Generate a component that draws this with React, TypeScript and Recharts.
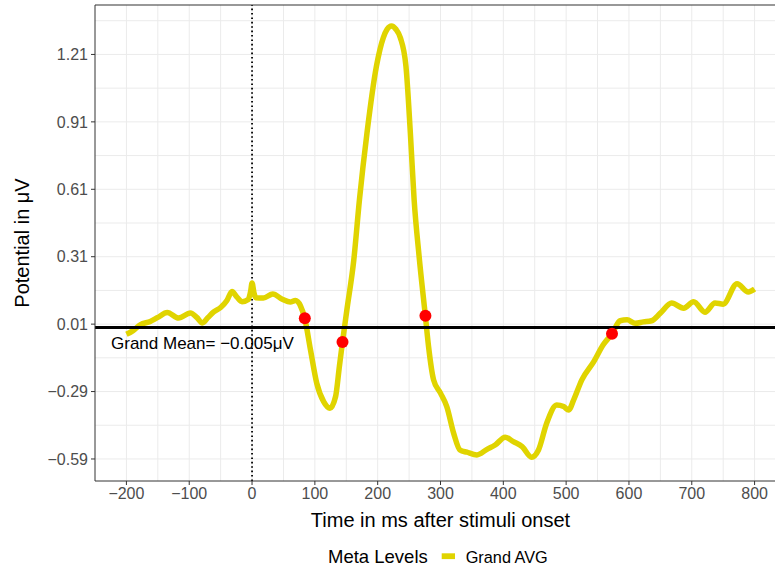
import {
  ComposedChart,
  Line,
  Scatter,
  XAxis,
  YAxis,
  ReferenceLine,
  Label,
} from 'recharts';

// grand average ERP (ms / µV)
const times = [
  -200, -190, -178, -162, -150, -135, -117, -98, -88, -79, -70, -61, -50, -40, -32, -24, -16, -6, -2, 0,
  3, 6, 18, 33, 48, 61, 69, 77, 84, 93, 103, 114, 124, 133, 139, 144, 151, 162, 171, 183,
  198, 209, 215, 222, 229, 236, 245, 252, 258, 266, 276, 281, 289, 300, 310, 321, 331, 342, 358, 374,
  387, 403, 416, 430, 445, 456, 469, 485, 496, 504, 512, 525, 544, 559, 573, 586, 597, 610, 623, 636,
  650, 668, 687, 703, 721, 737, 750, 772, 790, 800,
];
const potential = [
  -0.035, -0.02, 0.007, 0.022, 0.04, 0.062, 0.037, 0.06, 0.04, 0.015, 0.04, 0.064, 0.084, 0.115, 0.155, 0.13, 0.11, 0.12, 0.16, 0.193,
  0.15, 0.127, 0.126, 0.144, 0.121, 0.108, 0.115, 0.092, 0.034, -0.104, -0.253, -0.335, -0.364, -0.312, -0.179, -0.069, 0.074, 0.296, 0.564, 0.861,
  1.157, 1.285, 1.322, 1.337, 1.322, 1.285, 1.157, 0.861, 0.564, 0.31, 0.044, -0.09, -0.238, -0.297, -0.357, -0.476, -0.55, -0.56, -0.572, -0.547,
  -0.528, -0.493, -0.513, -0.535, -0.582, -0.55, -0.431, -0.35, -0.357, -0.372, -0.327, -0.238, -0.157, -0.082, -0.033, 0.025, 0.029, 0.014, 0.02, 0.025,
  0.059, 0.104, 0.081, 0.11, 0.063, 0.104, 0.099, 0.19, 0.153, 0.166,
];

// crossing markers
const markTimes = [84, 144, 276, 573];
const markValues = [0.036, -0.069, 0.047, -0.033];

const grandMean = -0.005;

const xTicks = [-200, -100, 0, 100, 200, 300, 400, 500, 600, 700, 800];
const xMinor = [-150, -50, 50, 150, 250, 350, 450, 550, 650, 750];
const yTicks = [-0.59, -0.29, 0.01, 0.31, 0.61, 0.91, 1.21];
const yMinor = [-0.44, -0.14, 0.16, 0.46, 0.76, 1.06, 1.36];

const X_DOMAIN: [number, number] = [-250, 850];
const Y_DOMAIN: [number, number] = [-0.688, 1.43];

const erp = times.map((t, i) => ({ t, v: potential[i] }));
const marks = markTimes.map((t, i) => ({ t, v: markValues[i] }));

const FONT = '"Liberation Sans", Arial, sans-serif';
const GRID = '#ebebeb';
const YELLOW = '#e0d400';

const minus = (s: string) => s.replace('-', '\u2212');

const RedDot = (props: any) => <circle cx={props.cx} cy={props.cy} r={6} fill="#ff0000" />;

export default function App() {
  return (
    <div
      style={{
        position: 'absolute',
        left: 0,
        top: 0,
        width: 775,
        height: 569,
        overflow: 'hidden',
        background: '#fff',
        fontFamily: FONT,
      }}
    >
      <ComposedChart width={800} height={569} margin={{ top: 5, right: 14, left: 0, bottom: 0 }}>
        {xMinor.concat(xTicks).map((x) => (
          <ReferenceLine key={'gx' + x} x={x} stroke={GRID} strokeWidth={1} />
        ))}
        {yMinor.concat(yTicks).map((y) => (
          <ReferenceLine key={'gy' + y} y={y} stroke={GRID} strokeWidth={1} />
        ))}
        <XAxis
          dataKey="t"
          type="number"
          domain={X_DOMAIN}
          ticks={xTicks}
          allowDataOverflow
          height={88}
          tickSize={4}
          tickMargin={3}
          tickFormatter={(v: number) => minus(String(v))}
          tick={{ fontSize: 16, fill: '#4d4d4d', fontFamily: FONT }}
          tickLine={{ stroke: '#333' }}
          axisLine={{ stroke: '#333' }}
        >
          <Label
            content={({ viewBox }: any) => (
              <text
                x={viewBox.x + viewBox.width / 2}
                y={527}
                textAnchor="middle"
                fontSize={20}
                fill="#000"
                fontFamily={FONT}
              >
                Time in ms after stimuli onset
              </text>
            )}
          />
        </XAxis>
        <YAxis
          type="number"
          domain={Y_DOMAIN}
          ticks={yTicks}
          allowDataOverflow
          width={95}
          tickSize={4}
          tickMargin={3}
          tickFormatter={(v: number) => minus(v.toFixed(2))}
          tick={{ fontSize: 16, fill: '#4d4d4d', fontFamily: FONT }}
          tickLine={{ stroke: '#333' }}
          axisLine={{ stroke: '#333' }}
        >
          <Label
            content={() => (
              <text
                x={28.5}
                y={243}
                transform="rotate(-90, 28.5, 243)"
                textAnchor="middle"
                fontSize={20}
                fill="#000"
                fontFamily={FONT}
              >
                Potential in μV
              </text>
            )}
          />
        </YAxis>
        {/* top edge of the panel border */}
        <ReferenceLine y={Y_DOMAIN[1]} stroke="#333" strokeWidth={1.2} />
        <ReferenceLine x={0} stroke="#000" strokeWidth={1.8} strokeDasharray="1.6 2.8" />
        <Line
          data={erp}
          dataKey="v"
          type="monotone"
          stroke={YELLOW}
          strokeWidth={5.5}
          strokeLinejoin="round"
          dot={false}
          activeDot={false}
          isAnimationActive={false}
        />
        <ReferenceLine
          y={grandMean}
          stroke="#000"
          strokeWidth={3}
          label={({ viewBox }: any) => (
            <text x={viewBox.x + 16} y={viewBox.y + 21} fontSize={17} fill="#000" fontFamily={FONT}>
              Grand Mean= {'\u2212'}0.005μV
            </text>
          )}
        />
        <Scatter data={marks} dataKey="v" fill="#ff0000" shape={RedDot} isAnimationActive={false} />
      </ComposedChart>
      <svg width={775} height={569} style={{ position: 'absolute', left: 0, top: 0, pointerEvents: 'none' }}>
        <text x={328} y={563.3} fontSize={18.5} fill="#000" fontFamily={FONT}>
          Meta Levels
        </text>
        <rect x={441.7} y={553.3} width={13.3} height={5.8} fill={YELLOW} />
        <text x={465.7} y={563.3} fontSize={16.3} fill="#000" fontFamily={FONT}>
          Grand AVG
        </text>
      </svg>
    </div>
  );
}
